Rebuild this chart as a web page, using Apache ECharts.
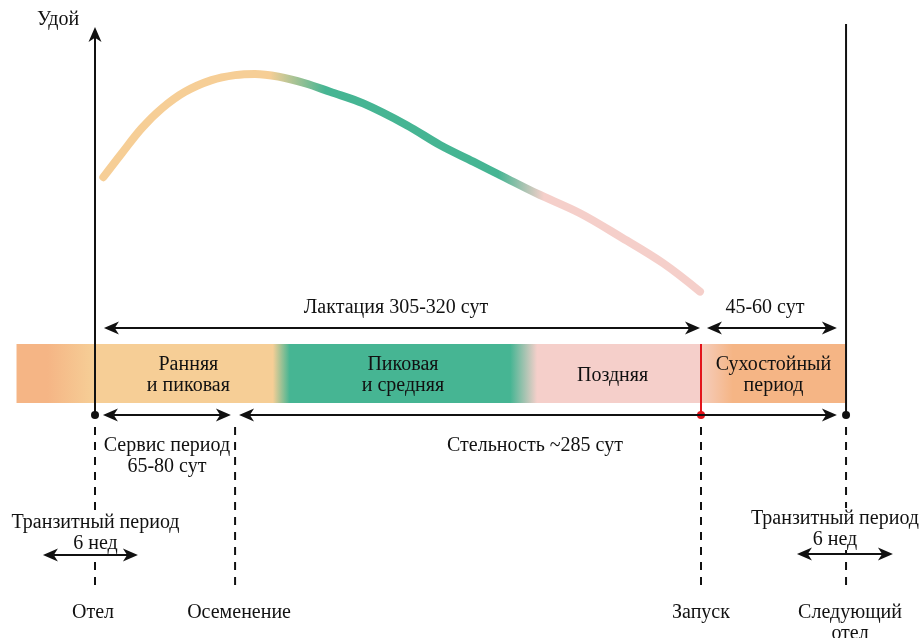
<!DOCTYPE html>
<html><head><meta charset="utf-8">
<script src="https://cdn.jsdelivr.net/npm/echarts@6/dist/echarts.min.js"></script>
<style>html,body{margin:0;padding:0;background:#fff}#c{width:922px;height:638px}</style>
</head><body><div id="c"></div>
<script>
// ---------------- data ----------------
const curveDays  = [4.2, 13.4, 23.5, 33.6, 45.3, 58.7, 70.5, 80.5, 92.3, 105.7, 118.3, 135.0, 156.9, 173.6, 190.4, 205.5, 222.3, 244.1, 264.2, 286.0, 304.5];
const curveYield = [61.3, 67.4, 73.9, 79.0, 83.3, 86.3, 87.6, 87.9, 87.2, 85.5, 83.3, 80.3, 74.7, 69.6, 65.3, 61.4, 57.1, 52.0, 46.0, 39.1, 31.8];
const curveBlendDays = [88, 116, 203, 226];

const eventNames = ['Отел', 'Осеменение', 'Запуск', 'Следующий\nотел'];
const eventDays  = [0, 70.5, 305, 378];

const bandStartDay = -39.5;
const phaseNames = ['Ранняя\nи пиковая', 'Пиковая\nи средняя', 'Поздняя', 'Сухостойный\nпериод'];
const phaseStart = [0, 94, 216, 305];
const phaseEnd   = [94, 216, 305, 378];

const periodNames = ['Лактация 305-320 сут', '45-60 сут', 'Сервис период\n65-80 сут', 'Стельность ~285 сут', 'Транзитный период\n6 нед', 'Транзитный период\n6 нед'];
const periodFrom = [4.5, 308, 4, 72.5, -26.2, 353.3];
const periodTo   = [304.5, 373.4, 68.4, 373.4, 21.6, 401.6];

const yAxisName = 'Удой';

// ---------------- layout / style ----------------
const W = 922, H = 638;
const PX_DAY0 = 95, PX_DAY305 = 701;
const pxPerDay = (PX_DAY305 - PX_DAY0) / 305;
const X_MIN = -PX_DAY0 / pxPerDay, X_MAX = (W - PX_DAY0) / pxPerDay;
const BASE_PX = 415, TOP_PX = 27;
const pxPerUnit = (BASE_PX - TOP_PX) / 100;
const Y_MIN = -(H - BASE_PX) / pxPerUnit, Y_MAX = BASE_PX / pxPerUnit;

const FAMILY = '"Liberation Serif", "Times New Roman", serif';
const FS = 20;
const INK = '#111111';
const RED = '#E3141B';
const C_PRE = '#F5B585', C_PEACH = '#F6CE96', C_GREEN = '#46B593', C_PINK = '#F5CFCA', C_DRY = '#F5B585', C_DRYLIGHT = '#F5CDBD';

const BAND_TOP = 344, BAND_BOT = 403;
const PHASE_LABEL_ROW = 375.5;
const periodArrowRow = [328, 328, 415, 415, 555, 554];
const periodLabelRow = [308, 308, 456, 446, 533, 529];
const periodLabelDx  = [-6, -7, 0, -3, 5, -10];
const periodLabelBg  = [false, false, false, false, true, true];
const EVENT_DOT_ROW = 415, DASH_TOP = 427, DASH_BOT = 590, EVENT_LABEL_TOP = 602;
const eventLabelDx = [-2, 4, 0, 4];
const AXIS_TOP = 27, RIGHT_TOP = 24;

function font(sz){ return sz + 'px ' + FAMILY; }
function txt(p, text, opts){
  opts = opts || {};
  return {type:'text', x:p[0], y:p[1], z2: 1, style:Object.assign({
    text:text, fill:INK, font:font(FS), align:'center', verticalAlign:'middle', lineHeight:21
  }, opts)};
}
function arrowHead(tip, dir){
  const L = 15, Wd = 13;
  const tx = tip[0], ty = tip[1], ux = dir[0], uy = dir[1], nx = -uy, ny = ux;
  return {type:'polygon', z2: 6, shape:{points:[
    [tx, ty],
    [tx - ux*L + nx*Wd/2, ty - uy*L + ny*Wd/2],
    [tx - ux*L*0.72, ty - uy*L*0.72],
    [tx - ux*L - nx*Wd/2, ty - uy*L - ny*Wd/2]
  ]}, style:{fill:INK}};
}

// curve gradient stops (fractions of stroked bounding box)
const cx0 = (curveDays[0] - X_MIN) * pxPerDay - 4;
const cx1 = (curveDays[curveDays.length-1] - X_MIN) * pxPerDay + 4;
const cf = d => (((d - X_MIN) * pxPerDay) - cx0) / (cx1 - cx0);
const curveGrad = new echarts.graphic.LinearGradient(0, 0, 1, 0, [
  {offset:0, color:C_PEACH},
  {offset:cf(curveBlendDays[0]), color:C_PEACH},
  {offset:cf(curveBlendDays[1]), color:C_GREEN},
  {offset:cf(curveBlendDays[2]), color:C_GREEN},
  {offset:cf(curveBlendDays[3]), color:C_PINK},
  {offset:1, color:C_PINK}
]);

const bandEndDay = phaseEnd[phaseEnd.length-1];
const bf = d => Math.min(1, Math.max(0, (d - bandStartDay) / (bandEndDay - bandStartDay)));

const option = {
  animation: false,
  backgroundColor: '#fff',
  grid: {left:0, right:0, top:0, bottom:0},
  xAxis: {type:'value', min:X_MIN, max:X_MAX, show:false},
  yAxis: [
    {type:'value', min:Y_MIN, max:Y_MAX, show:false},
    {type:'value', min:0, max:H, inverse:true, show:false}
  ],
  series: [
    // band
    {
      type:'custom', yAxisIndex:1, z:1,
      data:[[bandStartDay, bandEndDay]],
      renderItem(params, api){
        const a = api.coord([api.value(0), BAND_TOP]);
        const b = api.coord([api.value(1), BAND_BOT]);
        const stops = [
          {offset:0, color:C_PRE},
          {offset:bf(phaseStart[0]-24), color:C_PRE},
          {offset:bf(phaseStart[0]-1), color:C_PEACH},
          {offset:bf(phaseEnd[0]-4.5), color:C_PEACH},
          {offset:bf(phaseEnd[0]+4), color:C_GREEN},
          {offset:bf(phaseEnd[1]-7), color:C_GREEN},
          {offset:bf(phaseEnd[1]+6.5), color:C_PINK},
          {offset:bf(phaseEnd[2]), color:C_PINK},
          {offset:bf(phaseEnd[2]) + 0.0005, color:C_DRYLIGHT},
          {offset:bf(phaseEnd[2]+16), color:C_DRY},
          {offset:1, color:C_DRY}
        ];
        return {type:'rect', shape:{x:a[0], y:a[1], width:b[0]-a[0], height:b[1]-a[1]},
          style:{fill:new echarts.graphic.LinearGradient(0,0,1,0,stops)}};
      }
    },
    // phase labels
    {
      type:'custom', yAxisIndex:1, z:3,
      data: phaseNames.map((n,i)=>[(phaseStart[i]+phaseEnd[i])/2, PHASE_LABEL_ROW]),
      renderItem(params, api){
        const p = api.coord([api.value(0), api.value(1)]);
        return txt(p, phaseNames[params.dataIndex]);
      }
    },
    // lactation curve
    {
      type:'line', yAxisIndex:0, z:4,
      data: curveDays.map((d,i)=>[d, curveYield[i]]),
      smooth:0.35, showSymbol:false, symbol:'none',
      lineStyle:{width:8, cap:'round', join:'round', color:curveGrad}
    },
    // axes lines, event markers, dashes
    {
      type:'custom', yAxisIndex:1, z:5,
      data: eventDays.map(d=>[d]),
      renderItem(params, api){
        const i = params.dataIndex;
        const d = api.value(0);
        const ch = [];
        const dot = api.coord([d, EVENT_DOT_ROW]);
        const dt = api.coord([d, DASH_TOP]), db = api.coord([d, DASH_BOT]);
        ch.push({type:'line', shape:{x1:dt[0], y1:dt[1], x2:db[0], y2:db[1]}, style:{stroke:INK, lineWidth:2, lineDash:[8,7]}});
        if (i === 0) {
          const t = api.coord([d, AXIS_TOP]);
          ch.push({type:'line', shape:{x1:dot[0], y1:dot[1], x2:t[0], y2:t[1]+10}, style:{stroke:INK, lineWidth:2}});
          ch.push(arrowHead(t, [0,-1]));
          const lbl = api.coord([d, 20]);
          ch.push(txt([lbl[0]-37, lbl[1]], yAxisName));
          ch.push({type:'circle', shape:{cx:dot[0], cy:dot[1], r:4}, style:{fill:INK}, z2:8});
        } else if (i === 2) {
          const t = api.coord([d, BAND_TOP]);
          ch.push({type:'line', shape:{x1:dot[0], y1:dot[1], x2:t[0], y2:t[1]}, style:{stroke:RED, lineWidth:2}, z2:7});
          ch.push({type:'circle', shape:{cx:dot[0], cy:dot[1], r:4}, style:{fill:RED}, z2:8});
        } else if (i === 3) {
          const t = api.coord([d, RIGHT_TOP]);
          ch.push({type:'line', shape:{x1:dot[0], y1:dot[1], x2:t[0], y2:t[1]}, style:{stroke:INK, lineWidth:2}});
          ch.push({type:'circle', shape:{cx:dot[0], cy:dot[1], r:4}, style:{fill:INK}, z2:8});
        }
        const lp = api.coord([d, EVENT_LABEL_TOP]);
        ch.push(txt([lp[0] + eventLabelDx[i], lp[1]], eventNames[i], {verticalAlign:'top', lineHeight:21}));
        return {type:'group', children:ch};
      }
    },
    // period arrows + labels
    {
      type:'custom', yAxisIndex:1, z:6,
      data: periodFrom.map((f,i)=>[f, periodTo[i]]),
      renderItem(params, api){
        const i = params.dataIndex;
        const row = periodArrowRow[i];
        const a = api.coord([api.value(0), row]);
        const b = api.coord([api.value(1), row]);
        const inset = 15*0.72;
        const lblX = (a[0]+b[0])/2 + periodLabelDx[i];
        const lblY = api.coord([api.value(0), periodLabelRow[i]])[1];
        const extra = periodLabelBg[i] ? {backgroundColor:'#fff', padding:[0,2]} : {};
        return {type:'group', children:[
          txt([lblX, lblY], periodNames[i], extra),
          {type:'line', z2:5, shape:{x1:a[0]+inset, y1:a[1], x2:b[0]-inset, y2:b[1]}, style:{stroke:INK, lineWidth:2}},
          arrowHead(a, [-1,0]),
          arrowHead(b, [1,0])
        ]};
      }
    }
  ]
};

const chart = echarts.init(document.getElementById('c'), null, {renderer:'canvas'});
chart.setOption(option);
</script>
</body></html>
